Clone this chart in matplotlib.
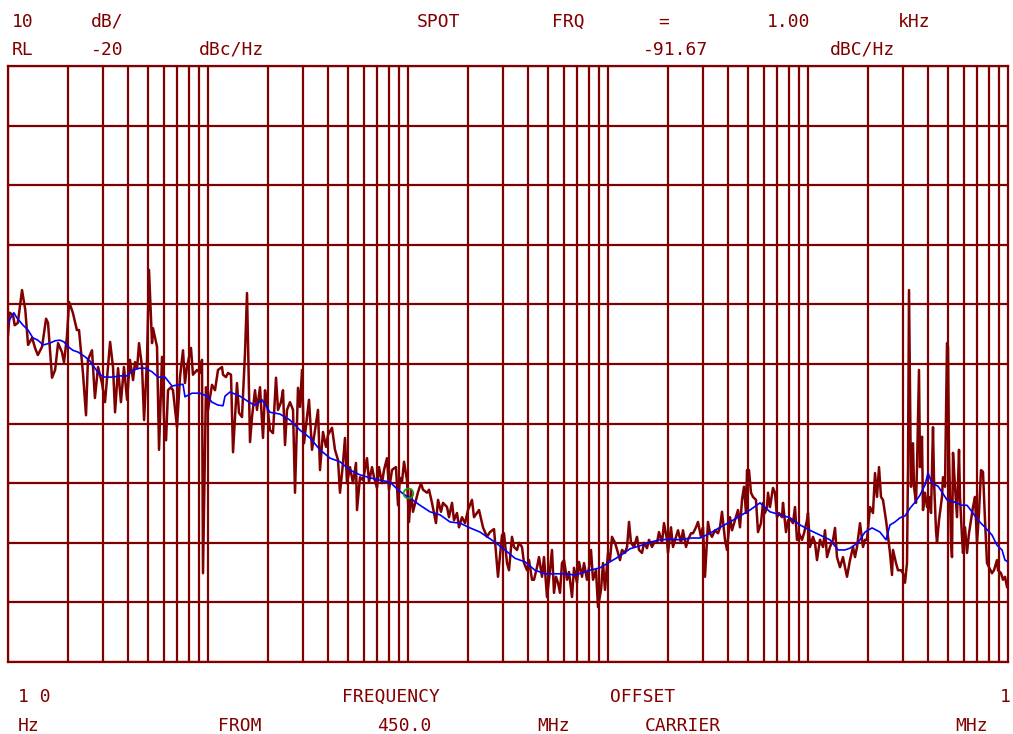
"""Phase noise plot: single sideband noise vs offset from a 450 MHz carrier."""

import matplotlib

matplotlib.use("Agg")
import matplotlib.pyplot as plt

# measured trace (raw), offset in Hz and level in dBc/Hz
red_freq = [
    10.0, 10.2, 10.6, 10.8, 11.2, 11.75, 12.2, 12.6, 13.2, 13.65, 14.1, 14.8, 15.5, 15.85,
    16.6, 17.2, 17.8, 18.6, 19.05, 19.7, 20.2, 21.1, 22.1, 22.65, 23.7, 24.55, 25.1, 26.3,
    27.2, 28.2, 29.5, 30.55, 32.4, 33.5, 34.3, 35.5, 36.7, 38.0, 39.4, 40.7, 42.2, 43.15,
    44.2, 45.2, 46.8, 47.9, 49.55, 50.7, 52.5, 53.1, 55.6, 56.9, 58.9, 60.3, 61.7, 63.1,
    65.3, 66.8, 70.0, 72.4, 75.0, 76.7, 78.5, 82.2, 84.1, 88.1, 91.2, 93.3, 94.4, 97.7,
    100, 104.7, 108.4, 112.2, 117.5, 118.9, 123.0, 125.9, 130.3, 133.4, 139.6, 142.9,
    147.9, 153.1, 156.7, 162.2, 166.0, 171.8, 175.8, 182.0, 188.4, 192.8, 197.2, 204.2,
    211.3, 218.8, 223.9, 231.7, 237.1, 242.7, 248.3, 257.0, 266.1, 272.3, 281.8, 288.4,
    295.1, 302.0, 312.6, 319.9, 331.1, 342.8, 354.8, 363.1, 375.8, 389.0, 398.1, 416.9,
    431.5, 446.7, 457.1, 473.2, 484.2, 495.5, 512.9, 530.9, 549.5, 555.9, 575.4, 595.7,
    623.7, 638.3, 660.7, 676.1, 699.8, 716.1, 741.3, 758.6, 785.2, 803.5, 831.8, 851.1,
    871.0, 891.3, 912.0, 933.3, 955.0, 988.6,
    1012, 1035, 1059, 1096, 1122, 1161, 1189, 1245, 1274, 1318, 1334, 1380, 1413, 1462,
    1496, 1567, 1603, 1660, 1698, 1758, 1799, 1862, 1928, 1995, 2089, 2138, 2213, 2265,
    2371, 2483, 2570, 2692, 2818, 2951, 3020, 3126, 3199, 3311, 3388, 3508, 3589, 3715,
    3802, 3936, 4027, 4169, 4266, 4416, 4519, 4677, 4786, 4955, 5070, 5248, 5370, 5495,
    5623, 5754, 5888, 6026, 6237, 6383, 6607, 6761, 6998, 7161, 7413, 7586, 7852, 8035,
    8222, 8414, 8710, 8913, 9226, 9441, 9661,
    10000, 10230, 10470, 10840, 11220, 11480, 11750, 12160, 12450, 12740, 13030, 13490,
    13960, 14290, 14790, 15140, 15670, 16030, 16600, 16980, 17580, 17990, 18620, 19050,
    19720, 19950, 20650, 21130, 21880, 22390, 23170, 23710, 24550, 25120, 26000, 26610,
    27540, 28180, 29170, 29850, 30550, 31620, 32360, 33110, 34280, 35480, 36310, 37150,
    38460, 39360, 40740, 41690, 43150, 44670, 45710, 46770, 47860, 48980, 49550, 50700,
    51880, 53090, 54950, 56230, 58210, 59570, 60950, 62370, 63100, 64570, 66830, 68390,
    69980, 71610, 74130, 74990, 77620, 79430, 82220, 84140, 86100, 88100, 90160, 93330,
    95500, 98860,
    100000, 102300, 105900, 108400, 110900, 114800, 118900, 121600, 124500, 128800,
    133400, 136500, 139600, 144500, 149600, 153100, 156700, 162200, 167900, 171800,
    175800, 182000, 188400, 192800, 197200, 204200, 211300, 216300, 221300, 226500,
    231700, 237100, 245500, 251200, 257000, 263000, 266100, 275400, 281800, 291700,
    298500, 305500, 312600, 316200, 319900, 327300, 335000, 338800, 346700, 350800,
    358900, 363100, 371500, 375800, 384600, 393600, 402700, 412100, 421700, 426600,
    436500, 441600, 451900, 467700, 473200, 484200, 495500, 501200, 507000, 518800,
    524800, 530900, 543300, 555900, 568900, 575400, 588800, 595700, 609500, 623700,
    638300, 653100, 668300, 683900, 699800, 716100, 732800, 749900, 767400, 785200,
    803500, 831800, 851100, 881000, 891300, 922600, 944100, 966100, 988600,
]
red_level = [
    -65.1, -61.4, -61.8, -63.5, -63.1, -57.6, -60.9, -66.8, -65.6, -67.3, -68.5, -67.1, -62.4, -63.1,
    -72.3, -71.0, -66.5, -68.0, -69.7, -65.5, -59.6, -61.4, -64.3, -64.3, -71.5, -78.6, -69.3, -67.7,
    -75.7, -70.5, -73.2, -76.4, -66.3, -70.5, -78.1, -70.7, -76.4, -70.5, -76.0, -69.3, -72.7, -69.7,
    -70.7, -66.5, -70.5, -79.4, -69.3, -54.2, -66.5, -64.0, -67.1, -84.4, -68.8, -79.4, -82.8, -74.4,
    -73.9, -74.4, -80.6, -72.3, -67.7, -73.2, -70.5, -67.3, -71.8, -71.0, -71.5, -69.3, -105.1, -73.9,
    -77.7, -73.5, -74.4, -71.0, -70.5, -71.8, -72.2, -71.5, -71.8, -84.8, -73.2, -78.2,
    -78.9, -68.2, -58.1, -83.1, -78.9, -74.4, -77.7, -73.9, -82.4, -74.4, -76.5, -81.1,
    -81.6, -72.3, -77.7, -76.4, -74.4, -83.6, -77.7, -76.4, -77.7, -91.6, -74.0, -77.2,
    -71.0, -83.3, -78.9, -76.0, -84.4, -81.1, -77.7, -87.8, -81.4, -83.9, -81.9, -80.7,
    -84.4, -86.1, -91.6, -86.6, -82.4, -90.0, -87.3, -90.0, -86.6, -94.5, -89.0, -89.5,
    -85.8, -89.8, -87.3, -89.0, -90.8, -87.3, -90.0, -87.8, -85.8, -91.1, -87.8, -87.5,
    -87.3, -93.7, -89.1, -89.8, -86.4, -89.5,
    -96.5, -91.1, -94.8, -92.8, -91.5, -90.0, -91.1, -91.6, -91.1, -93.3, -94.2, -96.7, -92.8, -94.8,
    -93.3, -94.0, -95.7, -93.3, -96.2, -95.0, -97.4, -95.7, -96.7, -94.5, -92.8, -95.7, -95.0, -94.5,
    -97.4, -99.0, -98.2, -97.7, -105.7, -98.7, -98.4, -103.4, -104.6, -99.0, -100.7, -101.2, -100.0, -100.7,
    -103.4, -104.6, -102.9, -106.2, -106.2, -104.1, -102.4, -105.7, -102.4, -109.1, -106.2, -101.2, -108.4, -105.7,
    -106.7, -108.4, -103.4, -102.9, -106.2, -104.9, -109.1, -104.2, -106.7, -103.2, -105.7, -103.4, -106.2, -104.2,
    -101.2, -106.2, -104.6, -110.8, -107.9, -103.4, -107.9,
    -101.7, -102.9, -99.0, -100.0, -101.7, -102.9, -101.2, -101.7, -100.7, -96.5, -100.0, -100.7,
    -99.0, -101.2, -101.7, -100.0, -100.9, -99.5, -100.7, -100.0, -100.0, -98.2, -100.0, -96.7,
    -99.5, -101.7, -97.4, -100.7, -99.0, -97.9, -100.0, -97.9, -100.7, -99.5, -98.4, -98.4,
    -97.4, -96.5, -99.0, -97.4, -105.7, -96.5, -98.4, -99.0, -97.9, -98.4, -97.4, -94.8,
    -99.5, -101.2, -95.7, -97.9, -96.2, -94.5, -97.4, -92.8, -90.6, -95.0, -87.8, -87.8,
    -91.6, -92.3, -92.8, -98.2, -96.7, -93.3, -95.0, -94.0, -91.6, -94.0, -90.8, -91.6,
    -95.7, -95.0, -95.7, -93.3, -98.2, -96.2, -96.2, -96.7, -94.0, -99.5, -98.4, -99.5,
    -98.4, -96.2,
    -95.0, -100.7, -99.0, -100.0, -102.9, -99.5, -100.7, -97.9, -102.4, -100.7,
    -99.5, -97.5, -102.4, -104.1, -102.4, -104.1, -105.7, -102.9, -100.7, -102.4,
    -100.7, -96.7, -100.7, -99.5, -99.5, -94.0, -95.0, -88.3, -92.3, -87.3,
    -92.3, -92.8, -96.2, -99.0, -101.7, -105.4, -101.2, -103.4, -104.6, -104.6,
    -105.1, -106.7, -103.4, -87.3, -57.6, -90.6, -83.3, -90.6, -93.3, -87.3,
    -71.0, -87.3, -82.2, -94.5, -91.6, -94.0, -92.3, -95.0, -80.6, -89.5,
    -97.9, -100.0, -96.2, -92.3, -89.0, -90.6, -66.5, -67.1, -84.9, -99.5,
    -102.4, -84.9, -90.6, -95.7, -84.4, -92.3, -99.0, -101.7, -97.4, -101.7,
    -98.4, -96.2, -94.0, -92.3, -100.0, -95.0, -87.8, -88.1, -96.2, -103.4,
    -104.1, -105.1, -104.6, -102.9, -104.6, -105.1, -106.2, -105.7, -107.4,
]

# smoothed trace
blue_freq = [
    10.0, 10.7, 11.1, 11.9, 12.6, 13.3, 14.1, 15.0, 16.2, 17.2, 18.2, 19.05, 20.0, 21.1,
    22.4, 24.3, 25.7, 27.2, 28.8, 30.55, 33.1, 36.3, 39.4, 42.2, 45.7, 48.4, 52.5, 56.2,
    61.0, 66.1, 70.8, 75.0, 76.7, 83.2, 91.2, 98.9, 104.7, 112.2, 118.9, 121.6, 128.8,
    144.5, 162.2, 171.8, 186.2, 204.2, 229.1, 257.0, 288.4, 323.6, 363.1, 407.4, 457.1,
    512.9, 575.4, 645.7, 724.4, 812.8, 891.3, 966.1, 1023, 1148, 1288, 1445, 1622, 1820,
    2042, 2291, 2723, 3055, 3428, 3846, 4315, 4842, 5433, 6095, 6839, 7674, 8128, 9120,
    10230, 11480, 12880, 14450, 16220, 18200, 20420, 22910, 25700, 28840, 32360, 36310,
    40740, 45710, 51290, 57540, 64570, 72440, 81280, 91200, 102300, 114800, 128800,
    141300, 153100, 162200, 177800, 192800, 208900, 229100, 245500, 257000, 272300,
    288400, 305500, 323600, 342800, 363100, 384600, 398100, 416900, 446700, 467700,
    495500, 543300, 588800, 623700, 660700, 707900, 767400, 831800, 881000, 933300,
    966100, 1000000,
]
blue_level = [
    -63.0, -61.4, -62.3, -63.5, -64.3, -65.6, -66.0, -66.8, -66.5, -66.1, -66.0, -66.3, -67.1, -67.7,
    -68.0, -68.8, -69.5, -70.7, -71.8, -72.2, -72.2, -72.0, -72.0, -71.0, -70.7, -70.7, -71.3, -72.2,
    -72.2, -73.7, -73.5, -73.4, -75.5, -74.9, -74.9, -75.4, -76.4, -76.9, -77.0, -75.4, -74.7,
    -75.4, -76.5, -76.9, -76.0, -78.1, -78.4, -79.4, -81.1, -82.4, -84.4, -85.8, -86.4,
    -87.8, -88.6, -89.1, -89.5, -89.8, -91.1, -92.0, -92.5, -93.7, -94.8, -95.3, -96.5, -96.7,
    -97.5, -98.2, -99.9, -101.2, -102.6, -103.2, -104.6, -105.2, -105.2, -105.2, -105.4, -104.9, -104.6, -104.2,
    -103.2, -102.2, -101.0, -100.5, -99.9, -99.5, -99.4, -99.5, -99.2, -99.2, -98.4, -97.4,
    -96.5, -95.5, -94.5, -93.3, -94.8, -95.3, -95.8, -97.0, -97.9, -98.7, -99.5,
    -101.2, -101.2, -100.9, -100.0, -98.2, -97.5, -98.2, -99.5, -97.0, -96.5,
    -95.8, -95.5, -94.2, -93.2, -92.0, -90.3, -88.3, -90.0, -90.5, -91.5,
    -92.8, -93.2, -93.7, -93.7, -94.8, -96.2, -97.4, -98.7, -100.4, -101.2,
    -102.9, -103.2,
]

# spot marker
spot_freq = 1000.0
spot_level = -91.67

ref_level = -20
db_per_div = 10
n_div = 10

# header / footer annotations: (text, x px, baseline y px)
top_texts = [
    ("10", 12, 27), ("dB/", 91, 27), ("SPOT", 417, 27), ("FRQ", 552, 27),
    ("=", 658, 27), ("1.00", 767, 27), ("kHz", 898, 27),
    ("RL", 12, 55), ("-20", 91, 55), ("dBc/Hz", 199, 55),
    ("-91.67", 643, 55), ("dBC/Hz", 830, 55),
]
bottom_texts = [
    ("1 0", 18, 702), ("FREQUENCY", 342, 702), ("OFFSET", 610, 702), ("1", 1000, 702),
    ("Hz", 18, 731), ("FROM", 218, 731), ("450.0", 377, 731), ("MHz", 537, 731),
    ("CARRIER", 645, 731), ("MHz", 955, 731),
]

W, H = 1013, 734
dark_red = "#800000"

fig = plt.figure(figsize=(W / 100, H / 100), dpi=100)
ax = fig.add_axes([8 / W, (H - 662) / H, 1000 / W, 596 / H])

ax.set_xscale("log")
ax.set_xlim(10, 1e6)
ax.set_ylim(ref_level - db_per_div * n_div, ref_level)

# graticule: log grid in x, 10 dB steps in y
for dec in [10, 100, 1000, 10000, 100000]:
    for m in range(1, 10):
        ax.axvline(dec * m, color=dark_red, lw=1.6, zorder=1)
for i in range(n_div + 1):
    ax.axhline(ref_level - i * db_per_div, color=dark_red, lw=1.6, zorder=1)

ax.plot(red_freq, red_level, color=dark_red, lw=1.8, zorder=2)
ax.plot(blue_freq, blue_level, color="#0000ff", lw=1.2, zorder=3)
ax.plot([spot_freq], [spot_level], marker="o", ms=7, mfc="none", mec="#1a9a1a",
        mew=1.2, zorder=4)

ax.set_xticks([])
ax.set_yticks([])
ax.minorticks_off()
for s in ax.spines.values():
    s.set_color(dark_red)
    s.set_linewidth(1.6)

for txt, x, y in top_texts + bottom_texts:
    fig.text(x / W, 1 - y / H, txt, color=dark_red, fontsize=13,
             family="DejaVu Sans Mono", ha="left", va="baseline")

fig.savefig("out.png", dpi=100)
